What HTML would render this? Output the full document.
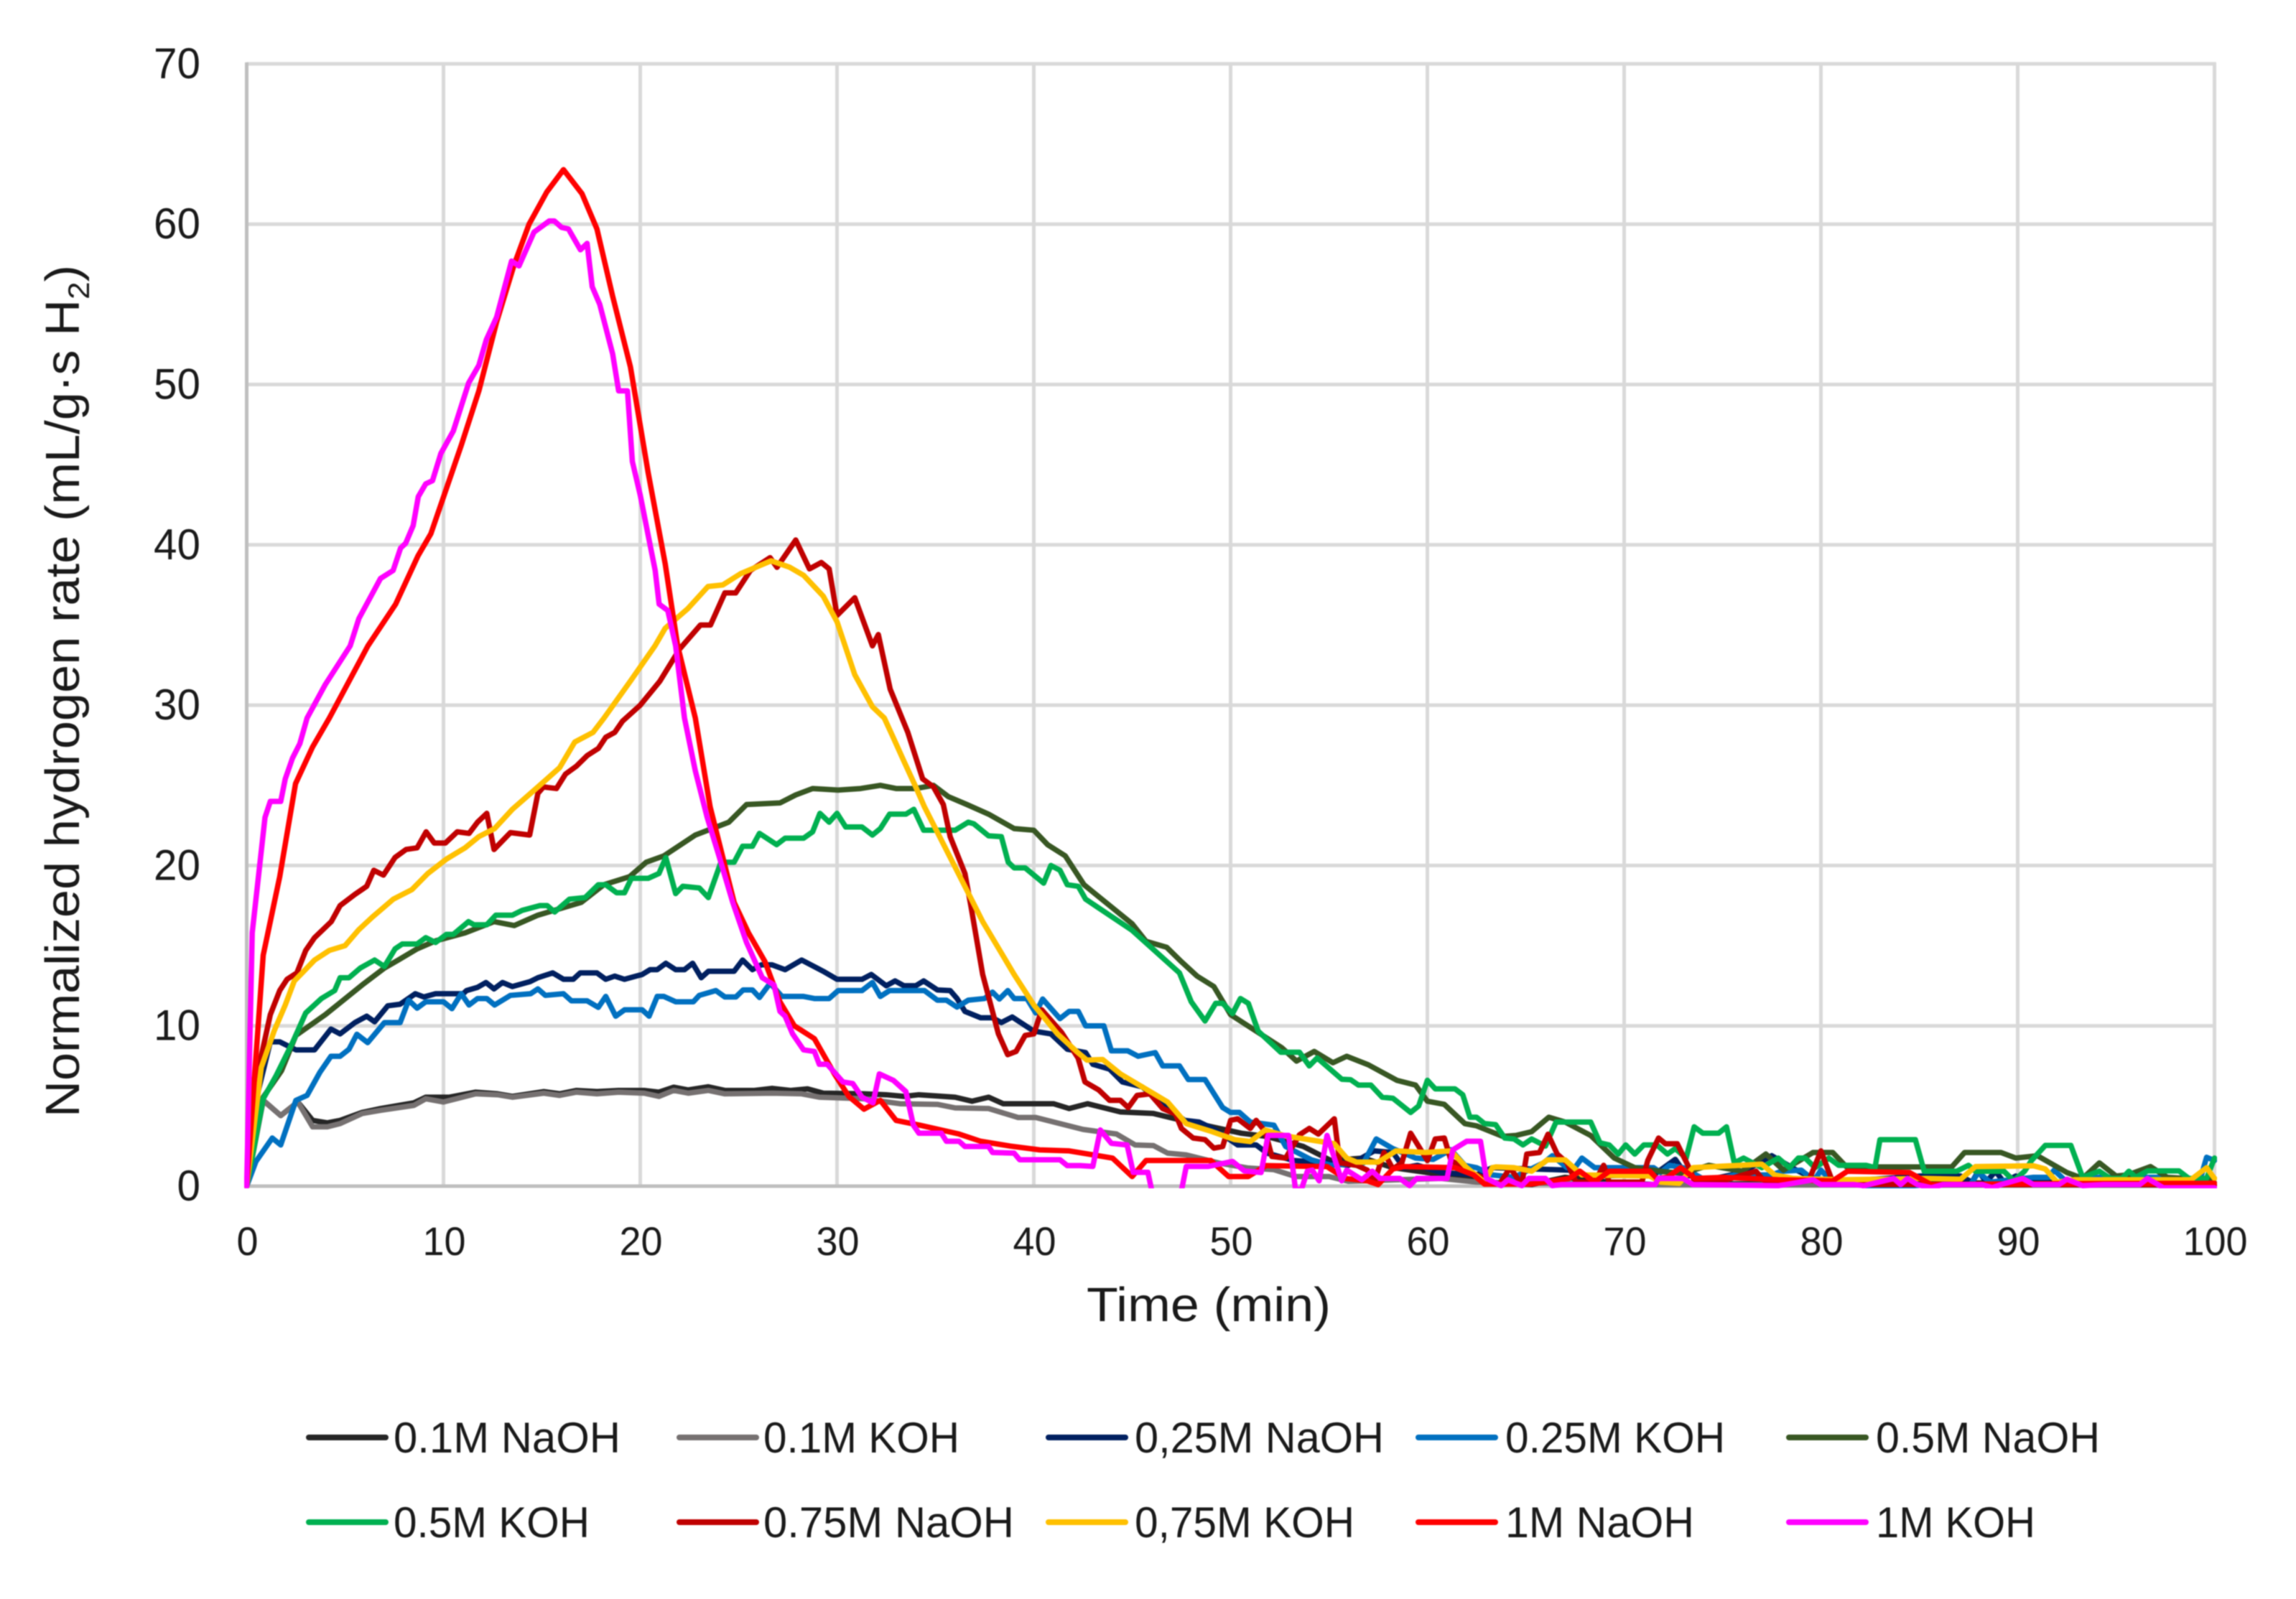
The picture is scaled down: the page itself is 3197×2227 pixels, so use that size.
<!DOCTYPE html>
<html>
<head>
<meta charset="utf-8">
<title>Normalized hydrogen rate</title>
<style>
html,body{margin:0;padding:0;background:#fff;}
svg{display:block;filter:blur(0.7px);}
text{font-family:"Liberation Sans",sans-serif;fill:#1a1a1a;}
</style>
</head>
<body>
<svg id="chart" xmlns="http://www.w3.org/2000/svg" width="3197" height="2227" viewBox="0 0 3197 2227">
<rect x="0" y="0" width="3197" height="2227" fill="#ffffff"/>
<defs><clipPath id="plot-clip"><rect x="340" y="85" width="2747" height="1570"/></clipPath></defs>
<g id="grid"></g>
<g id="axes"></g>
<g id="series" clip-path="url(#plot-clip)"></g>
<g id="ticks"></g>
<text x="1513" y="1840" font-size="67" textLength="340" lengthAdjust="spacingAndGlyphs">Time (min)</text>
<text transform="translate(110,1556) rotate(-90)" x="0" y="0" font-size="67" textLength="1187" lengthAdjust="spacingAndGlyphs">Normalized hydrogen rate (mL/g·s H<tspan font-size="42" dy="14">2</tspan><tspan dy="-14">)</tspan></text>
<g id="legend"></g>
</svg>
<script>
const seriesNames=["0.1M NaOH","0.1M KOH","0,25M NaOH","0.25M KOH","0.5M NaOH","0.5M KOH","0.75M NaOH","0,75M KOH","1M NaOH","1M KOH"];
const seriesColors=["#262626","#767171","#002060","#0070C0","#385723","#00B050","#C00000","#FFC000","#FF0000","#FF00FF"];
const xTicks=[0,10,20,30,40,50,60,70,80,90,100];
const yTicks=[0,10,20,30,40,50,60,70];

const naoh01=[[0,0],[.84,5.35],[1.73,4.4],[2.6,5.25],[3.35,4.1],[4.1,3.95],[4.75,4.1],[5.87,4.6],[6.8,4.84],[8.5,5.2],[9.1,5.55],[10.3,5.55],[11.64,5.86],[12.75,5.76],[13.5,5.6],[15.1,5.9],[15.9,5.76],[16.76,5.97],[17.8,5.9],[18.9,5.97],[20.2,5.97],[20.95,5.86],[21.7,6.17],[22.44,6],[23.46,6.2],[24.3,5.97],[25.8,5.97],[26.7,6.1],[27.64,5.97],[28.5,6.07],[29.3,5.8],[31.36,5.76],[32.5,5.7],[33.4,5.6],[34.16,5.7],[36,5.55],[36.86,5.3],[37.7,5.55],[38.44,5.14],[41,5.14],[41.8,4.84],[42.73,5.14],[44.4,4.63],[46.08,4.53],[47.2,4.2],[49.06,3.7],[50.55,3.3],[51.85,3.1],[53.7,2.47],[55.1,1.6],[56.76,1.75],[58.25,1.15],[60,.85],[61.6,.55],[62.9,.25],[65.3,.1],[67,.55],[69.2,.25],[71.5,.1],[80,.2],[100,.2]];

const koh01=[[0,0],[.84,5.35],[1.73,4.4],[2.6,5.25],[3.35,3.7],[4.1,3.7],[4.75,3.9],[5.87,4.53],[6.8,4.73],[8.5,5.04],[9.1,5.45],[10,5.25],[11.64,5.76],[12.75,5.7],[13.5,5.55],[15.1,5.8],[15.9,5.66],[16.76,5.86],[17.8,5.76],[18.9,5.86],[20.2,5.8],[20.95,5.6],[21.7,5.97],[22.44,5.8],[23.46,5.97],[24.3,5.76],[26.7,5.8],[28.2,5.76],[29.1,5.55],[31.36,5.45],[33.2,5.14],[35.1,5.1],[36,4.88],[37.7,4.84],[39.2,4.28],[40.1,4.28],[42.5,3.54],[44.2,3.25],[45.15,2.57],[46.08,2.53],[46.8,2.06],[47.75,1.95],[49.4,1.44],[50.9,1.13],[52.2,1.03],[53.3,.6],[55,.6],[56,.3],[60.7,.48],[62.5,.25],[70,.1],[100,.05]];

const naoh025=[[0,0],[.5,5.5],[1.2,9],[1.68,9],[2.5,8.5],[3.45,8.5],[4.28,9.8],[4.75,9.5],[5.5,10.2],[6.1,10.6],[6.5,10.25],[7.17,11.25],[7.8,11.35],[8.57,12],[9,11.8],[9.6,12],[11,12],[11.17,12.2],[11.73,12.4],[12.16,12.7],[12.57,12.3],[13,12.7],[13.5,12.45],[14.4,12.76],[14.8,13],[15.55,13.3],[16.1,12.9],[16.6,12.9],[16.95,13.3],[17.8,13.3],[18.25,12.9],[18.7,13.1],[19.2,12.9],[20.1,13.2],[20.5,13.5],[20.86,13.5],[21.3,13.9],[21.8,13.5],[22.25,13.5],[22.66,13.9],[23.1,13],[23.46,13.4],[24.77,13.4],[25.2,14.1],[25.7,13.5],[26.15,13.8],[26.7,13.8],[27.36,13.5],[28.2,14.1],[29.3,13.4],[30,12.9],[31.27,12.9],[31.74,13.2],[32.5,12.5],[32.95,12.8],[33.4,12.5],[34,12.5],[34.4,12.8],[35.1,12.24],[35.75,12.2],[36.1,11.7],[36.5,10.9],[37.3,10.5],[37.9,10.5],[38.35,10.2],[38.9,10.55],[40,9.67],[40.87,9.5],[41.7,8.54],[42.63,8.33],[43,7.6],[43.85,7.3],[44.5,6.5],[45.5,6.2],[46.8,4.9],[47.66,4.1],[48.4,4],[49.24,3.5],[50.36,2.57],[51.3,2.57],[51.85,2.06],[53.2,1.6],[54.9,1.45],[56,1.3],[57.3,2.2],[58.25,2.1],[58.8,1.15],[59.5,1.3],[60.7,.85],[62.5,.7],[63.3,1.15],[67.2,1],[68.1,.63],[71.5,.7],[72.6,1.67],[73.15,.7],[74.3,.4],[76,.85],[77.5,1.9],[78.76,1],[79.5,.55],[80.6,.25],[85.07,.63],[87.1,.63],[87.67,.25],[88,.93],[88.4,.25],[88.87,.93],[89.3,.25],[89.9,.63],[90.45,.25],[93.5,.25],[100,.1]];

const koh025=[[0,0],[.47,1.54],[1.3,3],[1.73,2.57],[2.5,5.35],[3.07,5.66],[3.72,7.1],[4.28,8.1],[4.75,8.1],[5.2,8.54],[5.6,9.47],[6.15,8.95],[7,10.2],[7.8,10.2],[8.23,11.6],[8.66,11.1],[9.1,11.5],[10,11.5],[10.43,11.07],[10.9,12],[11.3,11.3],[11.73,11.7],[12.2,11.7],[12.6,11.3],[13.4,11.9],[14.43,12],[14.8,12.3],[15.18,11.9],[16.1,12],[16.5,11.56],[17.3,11.56],[17.87,11.15],[18.25,11.83],[18.75,10.6],[19.2,11],[20.1,11],[20.45,10.6],[20.86,11.83],[21.2,11.83],[21.8,11.5],[22.7,11.5],[23,11.9],[23.84,12.2],[24.3,11.8],[24.86,11.8],[25.23,12.24],[25.7,12.24],[26.06,11.77],[26.6,12.65],[27.2,11.83],[28.3,11.83],[28.85,11.7],[29.6,11.7],[30.06,12.2],[31.27,12.2],[31.8,12.7],[32.2,11.83],[32.67,12.2],[34.44,12.2],[35.1,11.6],[35.56,11.6],[36.1,11.17],[36.67,11.6],[37.5,11.7],[37.9,12.1],[38.25,11.67],[38.68,12.2],[39,11.7],[39.65,11.7],[40.1,10.8],[40.45,11.67],[41.33,10.45],[41.8,10.9],[42.26,10.9],[42.63,10],[43.56,10],[43.94,8.44],[44.77,8.44],[45.3,8.1],[46.17,8.33],[46.55,7.5],[47.4,7.5],[47.85,6.65],[48.7,6.65],[49.6,4.9],[50,4.6],[50.45,4.6],[51,4],[52.2,3.8],[52.8,2.47],[54.1,1.65],[55.1,1.3],[56.76,1.45],[57.4,2.94],[58.25,2.34],[59.4,1.75],[60.3,1.67],[61.2,2.27],[61.9,1.3],[62.5,1.15],[63.3,.7],[64.4,.55],[65.9,1.45],[66.35,1.9],[67.1,1.15],[67.5,1.15],[67.85,1.75],[68.5,1.15],[71.5,1.15],[71.85,.85],[72.3,1.3],[73,1.15],[74.3,.25],[75.6,.7],[77.5,.7],[78,.93],[79,1],[79.65,.35],[80,1],[80.6,.25],[81.7,.25],[82.2,0],[84.3,0],[85.6,.1],[87.6,.1],[88,.85],[88.6,.25],[90.8,.55],[91.56,.55],[91.85,1],[92.5,.25],[94.15,.55],[97.3,.55],[99.2,.1],[99.6,1.8],[100,1.6]];

const naoh05=[[0,0],[.84,5.55],[1.77,7.2],[2.5,9.4],[4,10.7],[5.87,12.55],[7,13.6],[7.7,14.1],[8.66,14.8],[9.6,15.3],[11.1,15.8],[12.57,16.5],[13.6,16.25],[14.8,16.9],[17,17.7],[18.15,18.8],[19.46,19.3],[20.3,20.2],[21.2,20.6],[22.8,21.9],[24.5,22.7],[25.4,23.8],[27.1,23.9],[27.9,24.4],[28.76,24.8],[30.06,24.7],[31.2,24.8],[32.2,25],[33,24.8],[34,24.8],[34.9,25],[35.65,24.3],[36.6,23.8],[37.7,23.2],[39,22.3],[40,22.2],[40.7,21.3],[41.6,20.6],[42.55,18.8],[45,16.36],[45.7,15.27],[46.75,14.9],[47.5,14],[48.3,13.1],[49.15,12.45],[50,10.7],[51.3,9.67],[52.6,8.64],[53.35,7.8],[54.25,8.4],[55.2,7.7],[55.9,8.1],[57,7.57],[58.45,6.6],[59.4,6.3],[60,5.3],[60.86,5.1],[61.9,3.9],[62.5,3.76],[63.84,3.1],[64.5,3.16],[65.3,3.4],[66.17,4.3],[67,4],[68.3,3.16],[69.5,1.75],[70.54,1.15],[72,.9],[73,.8],[74.3,1.3],[76,.93],[77.2,2],[78.1,1],[79.6,2.1],[80.6,2.1],[81.3,1.2],[86.65,1.2],[87.3,2.1],[89.15,2.1],[89.9,1.75],[91,1.9],[92.5,.85],[93.3,.48],[94.15,1.45],[95,.63],[95.6,.7],[96.75,1.22],[97.6,.55],[98.6,.48],[100,.48]];

const koh05=[[0,0],[.84,5.45],[1.5,6.9],[2.33,8.95],[3,10.8],[3.8,11.7],[4.47,12.2],[4.75,13],[5.2,13],[5.77,13.6],[6.5,14.1],[7,13.7],[7.54,14.8],[7.9,15.1],[8.66,15.1],[9.1,15.5],[9.6,15.2],[10.15,15.7],[10.5,15.7],[11.27,16.5],[11.55,16.3],[12.2,16.3],[12.66,16.9],[13.5,16.9],[14,17.2],[14.9,17.5],[15.27,17.5],[15.65,17.1],[16.4,17.9],[17.2,18],[17.87,18.8],[18.25,18.8],[18.8,18.3],[19.2,18.3],[19.55,19.2],[20.4,19.2],[20.95,19.5],[21.3,20.5],[21.8,18.25],[22.16,18.7],[23,18.6],[23.46,18],[24.1,20.2],[24.77,20.2],[25.2,21.2],[25.7,21.2],[26.06,22],[26.93,21.3],[27.36,21.7],[28.3,21.7],[28.76,22.1],[29.13,23.25],[29.6,22.7],[30,23.25],[30.44,22.4],[31.27,22.4],[31.8,21.9],[32.2,22.3],[32.67,23.2],[33.5,23.2],[33.9,23.5],[34.4,22.2],[36,22.2],[36.67,22.7],[36.95,22.6],[37.7,21.85],[38.35,21.8],[38.7,20.2],[39,19.85],[39.56,19.85],[40.5,18.9],[40.87,20],[41.33,19.7],[41.7,18.8],[42.26,18.7],[42.63,17.9],[45,15.95],[47.4,13.3],[48,11.5],[48.7,10.3],[49.24,11.4],[49.6,11.4],[50.1,10.76],[50.5,11.7],[50.9,11.4],[51.4,9.67],[52.55,8.35],[53.5,8.35],[54,7.5],[54.4,8],[55.65,6.67],[56.1,6.64],[56.5,6.3],[57.13,6.3],[57.7,5.55],[58.25,5.48],[59.15,4.6],[59.56,5],[60,6.6],[60.4,6.07],[61.4,6.07],[61.8,5.7],[62.16,4.3],[62.5,4.3],[62.9,3.9],[63.47,3.84],[63.93,3],[64.4,2.94],[64.86,2.57],[65.3,2.94],[66,2.5],[66.54,4],[68.3,4],[68.77,2.7],[69.24,2.57],[69.7,2],[70.08,2.57],[70.54,2],[71,2.57],[71.66,2.57],[72.2,2],[72.6,2.34],[73.15,1.75],[73.56,3.7],[74,3.3],[74.8,3.3],[75.2,3.7],[75.6,1.45],[76.07,1.75],[77,1.15],[77.83,1.75],[78.4,1.15],[78.85,1.75],[79.2,1.75],[79.7,1.15],[80.4,1.75],[80.9,1.3],[82.3,1.3],[82.75,1.15],[83,2.9],[84.8,2.9],[85.25,.93],[86.9,.93],[87.5,1.3],[87.85,.93],[89.3,.93],[89.8,.33],[90.35,.93],[90.7,1.6],[91.4,2.54],[92.7,2.54],[93.3,.55],[94.15,.93],[94.7,.48],[95.3,.48],[95.65,.93],[96,.55],[96.6,.95],[98.2,.95],[98.7,.48],[99.6,.48],[100,1.75]];

const naoh075=[[0,0],[.65,7.6],[1.2,10.7],[1.68,12.2],[2.05,12.9],[2.55,13.3],[3,14.7],[3.45,15.5],[4.3,16.5],[4.75,17.5],[5.5,18.2],[6.1,18.7],[6.46,19.7],[6.95,19.4],[7.54,20.5],[8.1,21],[8.66,21.1],[9.12,22.1],[9.53,21.4],[10.1,21.4],[10.7,22.1],[11.3,22],[11.73,22.7],[12.2,23.25],[12.57,21],[13.4,22.05],[14.38,21.9],[14.8,24.5],[15.08,24.9],[15.74,24.8],[16.2,25.7],[16.76,26.2],[17.3,26.85],[17.87,27.3],[18.25,28],[18.7,28.3],[19.1,29],[20,30],[21,31.5],[22,33.5],[23.06,35],[23.57,35],[24.3,37],[24.85,37],[25.6,38.4],[26.6,39.2],[26.95,38.6],[27.9,40.3],[28.6,38.5],[29.2,38.9],[29.6,38.5],[30,35.6],[30.9,36.7],[31.8,33.7],[32.1,34.4],[32.7,31],[33.6,28.3],[34.35,25.4],[34.9,24.9],[35.4,23.8],[35.75,21.8],[36.5,19.5],[36.8,17.5],[37.4,13.2],[38.2,9.5],[38.67,8.2],[39.1,8.4],[39.56,9.4],[40,9.5],[40.4,11],[41.4,9.6],[42.25,8],[42.6,6.5],[43.3,6],[43.85,5.35],[44.4,5.35],[44.8,4.9],[45.25,5.66],[45.9,5.76],[46.55,4.84],[47.2,4.5],[47.5,3.6],[48.1,3],[48.7,2.9],[49.15,2.37],[49.6,2.47],[50,4.1],[50.36,4.2],[51,3.6],[51.3,4.1],[51.76,3.4],[52.1,1.85],[52.8,1.75],[53.5,3.2],[54,3.6],[54.46,3.25],[55.27,4.2],[55.55,1.45],[56.4,1.3],[56.95,1],[57.3,.25],[57.8,2.1],[58.25,1.07],[58.7,1.45],[59.15,3.3],[59.55,2.5],[60,1.6],[60.4,2.94],[60.86,3],[61.2,1.6],[62.5,.7],[63.65,.1],[64.2,1.15],[64.8,.1],[65.05,2],[65.7,2.1],[66.13,3.24],[66.6,2],[67.1,1.45],[67.56,.25],[68.5,.25],[68.96,1.3],[69.24,.25],[70.9,.25],[71.2,1.6],[71.75,3],[72.1,2.64],[72.7,2.64],[73.24,1.3],[73.6,.25],[75.2,.4],[76.7,.93],[77.06,.4],[77.83,.1],[79.4,.4],[80,2.2],[80.6,.25],[82.5,.1],[100,.1]];

const koh075=[[0,0],[.74,7.4],[1.4,9.7],[1.96,11.3],[2.42,12.8],[2.9,13.4],[3.45,14.1],[4.2,14.7],[5,15],[5.7,16],[6.4,16.8],[7.45,17.9],[8.4,18.5],[9.2,19.5],[10.15,20.4],[11.1,21.1],[11.8,21.8],[12.6,22.3],[13.5,23.5],[14.8,24.9],[15.9,26.1],[16.67,27.7],[17.6,28.3],[18.16,29.2],[19.5,31.5],[20.75,33.7],[21.27,34.8],[22.4,36],[23.44,37.4],[24.2,37.5],[25.1,38.2],[26.65,39],[27.6,38.6],[28.3,38.1],[29.3,36.8],[30,35.2],[30.9,31.9],[31.8,29.9],[32.4,29.2],[32.85,28],[33.4,26.5],[34,24.9],[34.44,23.66],[35.46,21.2],[36.58,18.5],[37.4,16.5],[39,13.2],[40,11.3],[41.2,9.5],[42.17,8.4],[42.7,7.86],[43.5,7.9],[44.4,7],[45.5,6.2],[46.8,5.25],[47.75,3.9],[49.06,3.4],[50.2,2.9],[51,2.78],[51.76,3.5],[52.8,3.13],[54.5,2.8],[55.27,2.64],[55.9,1.75],[56.4,1.5],[57.5,1.5],[58.4,2.2],[59.9,2.1],[61.2,2.2],[62,1.15],[62.9,.25],[63.3,1.15],[63.5,1.2],[64.4,1.15],[65.3,.93],[66.1,1.64],[67,1.64],[67.85,.7],[71.3,.63],[71.85,.25],[72.8,.18],[73.5,1.15],[77,1.37],[77.65,.7],[78.6,.48],[81,.4],[85.35,.48],[87.1,.43],[87.85,1.22],[90.8,1.27],[91.4,1.07],[92,.25],[92.9,.4],[96,.4],[98.8,.4],[99.6,1.15],[100,.48]];

const naoh1=[[0,0],[.84,14.4],[1.68,19.3],[2.48,25.1],[3.35,27.4],[4.2,29.2],[6.16,33.7],[7.57,36.3],[8.7,39.3],[9.36,40.7],[10.9,46.2],[11.8,49.6],[12.7,53.9],[13.6,57.5],[14.35,60],[15.25,62],[16.1,63.4],[17.04,61.9],[17.8,59.7],[18.6,55.5],[19.5,51.1],[20.4,44.5],[21.27,38.8],[21.9,33.7],[22.8,29.2],[23.55,23.66],[24.3,20],[24.77,17.7],[25.5,15.8],[26.34,14],[27.1,11.5],[27.83,10],[28.85,9.2],[29.87,7],[30.6,5.6],[31.37,4.8],[32.2,5.35],[33,4.1],[34.2,3.8],[36.2,3.25],[37.3,2.8],[38.8,2.5],[40.3,2.26],[41.8,2.2],[44,1.75],[45,.6],[45.7,1.6],[49,1.6],[49.9,.6],[50.9,.6],[51.8,1.28],[54.9,1.22],[55.83,.48],[56.95,.33],[57.5,.1],[58.25,1.07],[58.8,1.22],[61.4,1.15],[62.35,.7],[62.9,.13],[65.3,.13],[67.2,.48],[67.75,.93],[68.5,.25],[69.24,.93],[71.3,.93],[71.66,.48],[72.2,.55],[72.87,1.15],[73.6,.48],[75.05,.55],[77.83,.4],[80.6,.33],[81.35,.93],[84.5,.85],[85.6,.1],[88.4,.13],[90,.15],[100,.18]];

const koh1=[[0,0],[.28,15.8],[.93,23],[1.2,24],[1.73,24],[1.96,25.4],[2.33,26.7],[2.7,27.6],[3.07,29.2],[4,31.3],[5.26,33.7],[5.7,35.4],[6.8,37.9],[7.44,38.4],[7.82,39.8],[8.08,40.1],[8.46,41.2],[8.72,43],[9.1,43.8],[9.44,44],[9.87,45.7],[10.5,47.1],[11.28,50.1],[11.8,51.2],[12.18,52.8],[12.7,54.2],[13.46,57.7],[13.84,57.4],[14.6,59.5],[15.38,60.2],[15.63,60.2],[16,59.8],[16.35,59.7],[16.96,58.4],[17.3,58.8],[17.56,56.1],[17.94,55],[18.6,51.9],[18.9,49.6],[19.35,49.6],[19.6,45.2],[20,43.1],[20.4,40.6],[20.76,38.4],[20.96,36.3],[21.4,35.9],[21.8,33.7],[22.25,29.2],[22.8,25.9],[23.4,23],[24,20.6],[24.7,17.7],[25.4,15.2],[26.2,13],[26.8,12.55],[27.1,10.9],[27.36,10.6],[27.74,9.5],[28.3,8.5],[28.85,8.4],[29.1,7.6],[29.5,7.6],[30.3,6.5],[30.8,6.4],[31.27,5.55],[31.83,5.2],[32.15,7],[32.86,6.6],[33.5,5.9],[33.88,3.8],[34.16,3.3],[35.3,3.3],[35.56,2.8],[36.2,2.8],[36.5,2.47],[37.7,2.47],[37.9,2.1],[39,2.06],[39.28,1.65],[41.33,1.65],[41.7,1.28],[42.35,1.28],[43,1.23],[43.38,3.5],[43.94,2.67],[44.74,2.57],[45.05,.86],[45.8,.86],[46,-.3],[47.5,-.3],[47.75,1.23],[48.87,1.23],[50.1,1.54],[50.7,.95],[51.55,.85],[51.9,3.16],[52.95,3.16],[53.3,-.2],[53.6,-.2],[53.9,.93],[54.15,1],[54.5,.33],[54.9,3.16],[55.65,.33],[55.9,1],[56.67,.4],[57.2,.93],[57.6,.48],[58.6,.48],[59.1,.03],[59.46,.48],[61,.48],[61.3,2.27],[62,2.8],[62.7,2.8],[63,.48],[63.75,.03],[64.1,.4],[64.8,.03],[65.15,.48],[66,.48],[66.35,.03],[66.8,.1],[71.57,.1],[71.75,.48],[73,.48],[73.5,.1],[77.83,.03],[78.2,.1],[79.6,.4],[80,.1],[81.7,.1],[82.2,.03],[83.7,.48],[84.05,.1],[84.4,.48],[84.9,.1],[85.6,-.1],[86.2,.1],[88.2,.1],[88.7,-.1],[89.15,.1],[90.25,.48],[90.8,.1],[92.1,.1],[92.5,.43],[93.3,.03],[94.35,.1],[96.2,.1],[96.6,.48],[97.4,-.1],[100,-.1]];

const seriesData=[naoh01,koh01,naoh025,koh025,naoh05,koh05,naoh075,koh075,naoh1,koh1];

const svgNS="http://www.w3.org/2000/svg";
const xAt=function(t){return 343.5+27.4*t;};
const yAt=function(v){return 1652-22.33*v;};

const gridG=document.getElementById('grid');
const axesG=document.getElementById('axes');
const tickG=document.getElementById('ticks');
const seriesG=document.getElementById('series');
const legendG=document.getElementById('legend');

yTicks.forEach(function(v){
  const y=yAt(v);
  if(v>0){
    const gl=document.createElementNS(svgNS,'line');
    
    
    gl.setAttribute('x1',xAt(0));gl.setAttribute('x2',xAt(100)+2);
    gl.setAttribute('y1',y);gl.setAttribute('y2',y);
    gl.setAttribute('stroke','#D9D9D9');gl.setAttribute('stroke-width','5');
    gridG.appendChild(gl);
  }
  const lb=document.createElementNS(svgNS,'text');
  
  
  lb.setAttribute('x','279');lb.setAttribute('y',y+20);
  lb.setAttribute('font-size','60');lb.setAttribute('text-anchor','end');
  lb.setAttribute('textLength',String(v).length*32.5);
  lb.setAttribute('lengthAdjust','spacingAndGlyphs');
  lb.textContent=v;
  tickG.appendChild(lb);
});

xTicks.forEach(function(t){
  const x=xAt(t);
  if(t>0){
    const gl=document.createElementNS(svgNS,'line');
    
    
    gl.setAttribute('x1',x);gl.setAttribute('x2',x);
    gl.setAttribute('y1',yAt(70)-2);gl.setAttribute('y2',yAt(0));
    gl.setAttribute('stroke','#D9D9D9');gl.setAttribute('stroke-width','5');
    gridG.appendChild(gl);
  }
  const lb=document.createElementNS(svgNS,'text');
  
  
  lb.setAttribute('x',x+1);lb.setAttribute('y','1748');
  lb.setAttribute('font-size','56');lb.setAttribute('text-anchor','middle');
  lb.setAttribute('textLength',String(t).length*30);
  lb.setAttribute('lengthAdjust','spacingAndGlyphs');
  lb.textContent=t;
  tickG.appendChild(lb);
});

const xAxis=document.createElementNS(svgNS,'line');


xAxis.setAttribute('x1',xAt(0)-2);xAxis.setAttribute('x2',xAt(100)+2);
xAxis.setAttribute('y1',yAt(0));xAxis.setAttribute('y2',yAt(0));
xAxis.setAttribute('stroke','#BFBFBF');xAxis.setAttribute('stroke-width','5');
axesG.appendChild(xAxis);

const yAxis=document.createElementNS(svgNS,'line');


yAxis.setAttribute('x1',xAt(0));yAxis.setAttribute('x2',xAt(0));
yAxis.setAttribute('y1',yAt(70)-2);yAxis.setAttribute('y2',yAt(0)+2);
yAxis.setAttribute('stroke','#BFBFBF');yAxis.setAttribute('stroke-width','5');
axesG.appendChild(yAxis);

seriesData.forEach(function(points,i){
  const d=points.map(function(p,k){return (k?'L':'M')+xAt(p[0]).toFixed(1)+' '+yAt(p[1]).toFixed(1);}).join('');
  const path=document.createElementNS(svgNS,'path');
  
  
  path.setAttribute('d',d);
  path.setAttribute('fill','none');
  path.setAttribute('stroke',seriesColors[i]);
  path.setAttribute('stroke-width','7.5');
  path.setAttribute('stroke-linejoin','round');
  path.setAttribute('stroke-linecap','round');
  seriesG.appendChild(path);
});

const legendColX=[427,943,1457,1972,2488];
const legendTextX=[548,1063,1580,2096,2612];
const legendRowY=[2002,2120];
const legendTextW=[316,273,347,306,312,273,349,306,263,222];
seriesNames.forEach(function(name,i){
  const col=i%5,row=Math.floor(i/5);
  const sw=document.createElementNS(svgNS,'line');
  
  
  sw.setAttribute('x1',legendColX[col]+3);sw.setAttribute('x2',legendColX[col]+110);
  sw.setAttribute('y1',legendRowY[row]);sw.setAttribute('y2',legendRowY[row]);
  sw.setAttribute('stroke',seriesColors[i]);
  sw.setAttribute('stroke-width','8');
  sw.setAttribute('stroke-linecap','round');
  legendG.appendChild(sw);
  const tx=document.createElementNS(svgNS,'text');
  
  
  tx.setAttribute('x',legendTextX[col]);
  tx.setAttribute('y',legendRowY[row]+21);
  tx.setAttribute('font-size','60');
  tx.setAttribute('textLength',legendTextW[i]);
  tx.setAttribute('lengthAdjust','spacingAndGlyphs');
  tx.textContent=name;
  legendG.appendChild(tx);
});
</script>
</body>
</html>
